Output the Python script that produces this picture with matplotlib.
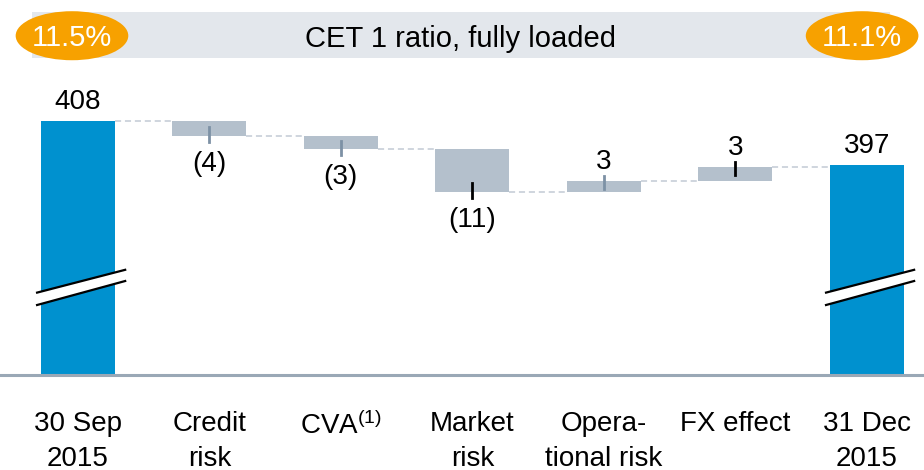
import matplotlib
matplotlib.use('Agg')
import matplotlib.pyplot as plt
from matplotlib.patches import Ellipse, Rectangle, Polygon

plt.rcParams['font.family'] = ['Liberation Sans', 'DejaVu Sans']
plt.rcParams['mathtext.fontset'] = 'custom'
plt.rcParams['mathtext.rm'] = 'Liberation Sans'
plt.rcParams['mathtext.it'] = 'Liberation Sans:italic'

# data
categories = ['30 Sep\n2015', 'Credit\nrisk', 'CVA$^{(1)}$', 'Market\nrisk',
              'Opera-\ntional risk', 'FX effect', '31 Dec\n2015']
start_value = 408
end_value = 397
deltas = [-3.8, -3.3, -10.6, 2.8, 3.4]
ratio_start = '11.5%'
ratio_end = '11.1%'
title = 'CET 1 ratio, fully loaded'

blue = '#0091cf'
grey = '#b4c0cc'
lead_colors = ['#7d91a5', '#7d91a5', 'black', '#7d91a5', 'black']
fs = 20

fig = plt.figure(figsize=(9.24, 4.70), dpi=100)
ax = fig.add_axes([0, 0.2021, 1, 0.7979])
ylo, yhi = 344.5, 438.25
ax.set_ylim(ylo, yhi)
ax.set_xlim(-0.592, 6.435)
w = 0.563

# start / end bars
n = len(categories)
ax.bar(0, start_value - ylo, bottom=ylo, width=w, color=blue, zorder=2)
ax.bar(n - 1, end_value - ylo, bottom=ylo, width=w, color=blue, zorder=2)

def val_label(x, y, txt, above):
    if above:
        ax.annotate(txt, (x, y), xytext=(0, 12), textcoords='offset pixels',
                    ha='center', va='baseline', fontsize=fs)
    else:
        ax.annotate(txt, (x, y), xytext=(0, -35), textcoords='offset pixels',
                    ha='center', va='baseline', fontsize=fs)

val_label(0, start_value, str(start_value), True)
val_label(n - 1, end_value, str(end_value), True)

# deltas
level = start_value
levels = [level]
for i, d in enumerate(deltas):
    x = i + 1
    new = level + d
    lo, hi = min(level, new), max(level, new)
    ax.bar(x, hi - lo, bottom=lo, width=w, color=grey, zorder=2)
    if d < 0:
        ax.plot([x, x], [lo - 1.5, lo + 2.2], color=lead_colors[i], lw=2, zorder=3)
        val_label(x, lo, '(%d)' % abs(round(d)), False)
    else:
        ax.plot([x, x], [hi + 1.2, hi - 2.0], color=lead_colors[i], lw=2, zorder=3)
        val_label(x, hi, '%d' % round(d), True)
    level = new
    levels.append(level)

# dashed connectors
for i, lv in enumerate(levels):
    ax.plot([i + w / 2, i + 1 - w / 2], [lv, lv], color='#c2cad4', lw=1.1,
            ls=(0, (4, 2.5)), zorder=1)

# axis breaks on the two blue bars
for x in [0, n - 1]:
    poly = Polygon([(x - 0.31, 362), (x + 0.36, 368), (x + 0.36, 370.8), (x - 0.31, 365.1)],
                   closed=True, facecolor='white', edgecolor='none', zorder=4)
    ax.add_patch(poly)
    ax.plot([x - 0.31, x + 0.36], [362, 368], color='black', lw=1.6, zorder=5)
    ax.plot([x - 0.31, x + 0.36], [365.1, 370.8], color='black', lw=1.6, zorder=5)

for s in ['top', 'left', 'right']:
    ax.spines[s].set_visible(False)
ax.spines['bottom'].set_color('#9aa8b6')
ax.spines['bottom'].set_linewidth(2.2)
ax.set_yticks([])
ax.set_xticks(range(n))
ax.set_xticklabels(categories, fontsize=fs, linespacing=1.42)
ax.tick_params(axis='x', length=0, pad=26)

# header band with ratios
fig.add_artist(Rectangle((0.0343, 0.877), 0.929, 0.0966, transform=fig.transFigure,
                         facecolor='#e3e7ec', edgecolor='none'))
fig.text(0.498, 0.917, title, ha='center', va='center', fontsize=21)
for cx, txt in [(0.0779, ratio_start), (0.933, ratio_end)]:
    fig.add_artist(Ellipse((cx, 0.924), 0.1219, 0.1043, transform=fig.transFigure,
                           facecolor='#f7a100', edgecolor='none'))
    fig.text(cx, 0.919, txt, ha='center', va='center', fontsize=21, color='white')

fig.savefig('out.png', dpi=100)
